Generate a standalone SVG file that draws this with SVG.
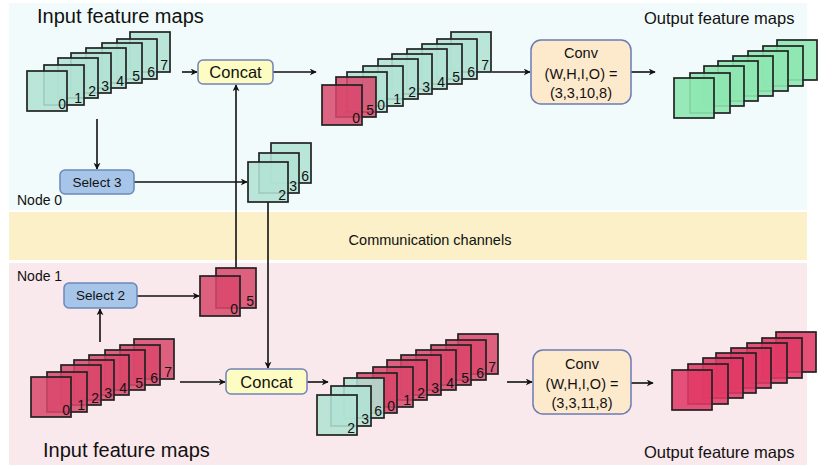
<svg xmlns="http://www.w3.org/2000/svg" width="838" height="469" viewBox="0 0 838 469">
<style>
.t{fill:#b2e2d4;fill-opacity:0.88;stroke:#222;stroke-width:1.7}
.r{fill:#d9486c;fill-opacity:0.85;stroke:#222;stroke-width:1.7}
.g{fill:#8ee7b1;fill-opacity:0.9;stroke:#222;stroke-width:1.7}
.p{fill:#e03a66;fill-opacity:0.88;stroke:#222;stroke-width:1.7}
.n{font-family:"Liberation Sans",Arial,sans-serif;font-size:14px;fill:#111;text-anchor:end}
.lbl{font-family:"Liberation Sans",Arial,sans-serif;fill:#111}
.c{stroke:#111;stroke-width:1.6;fill:none}
.concat{fill:#fdfcc2;stroke:#7283b8;stroke-width:1.5}
.sel{fill:#a7c5e8;stroke:#6a89bb;stroke-width:1.5}
.conv{fill:#fde9cc;stroke:#6a7bb5;stroke-width:1.5}
</style>
<defs>
<marker id="ah" viewBox="0 0 10 10" refX="9" refY="5" markerWidth="7" markerHeight="7" markerUnits="userSpaceOnUse" orient="auto">
<path d="M0,0 L10,5 L0,10 L3,5 z" fill="#111"/>
</marker>
</defs>
<rect x="0" y="0" width="838" height="469" fill="#ffffff"/>
<rect x="9" y="3" width="798" height="207" fill="#f2fbfb"/>
<rect x="9" y="212" width="798" height="48" fill="#fbf0c8"/>
<rect x="9" y="263" width="798" height="202" fill="#f9e8ec"/>

<text class="lbl" x="37" y="23" font-size="20">Input feature maps</text>
<text class="lbl" x="644" y="24" font-size="16.5">Output feature maps</text>
<text class="lbl" x="17" y="205" font-size="14">Node 0</text>
<text class="lbl" x="430" y="245" font-size="14.5" text-anchor="middle">Communication channels</text>
<text class="lbl" x="17" y="281" font-size="14">Node 1</text>
<text class="lbl" x="43" y="457" font-size="20">Input feature maps</text>
<text class="lbl" x="644" y="458" font-size="16.5">Output feature maps</text>

<g id="connectors">
<line class="c" x1="182" y1="72" x2="197" y2="72" marker-end="url(#ah)"/>
<line class="c" x1="273" y1="72" x2="316" y2="72" marker-end="url(#ah)"/>
<line class="c" x1="492" y1="72" x2="530" y2="72" marker-end="url(#ah)"/>
<line class="c" x1="631" y1="72" x2="655" y2="72" marker-end="url(#ah)"/>
<line class="c" x1="97" y1="119" x2="97" y2="169" marker-end="url(#ah)"/>
<line class="c" x1="134" y1="182" x2="247" y2="182" marker-end="url(#ah)"/>
<line class="c" x1="236" y1="268" x2="236" y2="85" marker-end="url(#ah)"/>
<line class="c" x1="268" y1="202" x2="268" y2="368" marker-end="url(#ah)"/>
<line class="c" x1="100" y1="342" x2="100" y2="309" marker-end="url(#ah)"/>
<line class="c" x1="137" y1="296" x2="199" y2="296" marker-end="url(#ah)"/>
<line class="c" x1="180" y1="382" x2="225" y2="382" marker-end="url(#ah)"/>
<line class="c" x1="307" y1="382" x2="328" y2="382" marker-end="url(#ah)"/>
<line class="c" x1="507" y1="382" x2="532" y2="382" marker-end="url(#ah)"/>
<line class="c" x1="631" y1="383" x2="653" y2="383" marker-end="url(#ah)"/>
</g>

<g id="input0">
<rect class="t" x="130" y="32" width="40" height="40"/><text class="n" x="168" y="70">7</text>
<rect class="t" x="117" y="39" width="40" height="40"/><text class="n" x="155" y="77">6</text>
<rect class="t" x="102" y="43" width="40" height="40"/><text class="n" x="140" y="81">5</text>
<rect class="t" x="86" y="48" width="40" height="40"/><text class="n" x="124" y="86">4</text>
<rect class="t" x="71" y="53" width="40" height="40"/><text class="n" x="109" y="91">3</text>
<rect class="t" x="58" y="58" width="40" height="40"/><text class="n" x="96" y="96">2</text>
<rect class="t" x="44" y="65" width="40" height="40"/><text class="n" x="82" y="103">1</text>
<rect class="t" x="27" y="71" width="40" height="40"/><text class="n" x="66" y="109">0</text>
</g>

<g id="concat0">
<rect class="concat" x="198" y="60" width="75" height="24" rx="5"/>
<text class="lbl" x="235.5" y="77.5" font-size="16.5" text-anchor="middle">Concat</text>
</g>

<g id="stack0">
<rect class="t" x="451" y="32" width="40" height="40"/><text class="n" x="489" y="70">7</text>
<rect class="t" x="437" y="39" width="40" height="40"/><text class="n" x="475" y="77">6</text>
<rect class="t" x="422" y="44" width="40" height="40"/><text class="n" x="460" y="82">5</text>
<rect class="t" x="407" y="49" width="40" height="40"/><text class="n" x="445" y="87">4</text>
<rect class="t" x="392" y="54" width="40" height="40"/><text class="n" x="430" y="92">3</text>
<rect class="t" x="378" y="59" width="40" height="40"/><text class="n" x="416" y="97">2</text>
<rect class="t" x="363" y="66" width="40" height="40"/><text class="n" x="401" y="104">1</text>
<rect class="t" x="347" y="72" width="40" height="40"/><text class="n" x="385" y="110">0</text>
<rect class="r" x="336" y="77" width="40" height="40"/><text class="n" x="374" y="115">5</text>
<rect class="r" x="322" y="85" width="40" height="40"/><text class="n" x="360" y="123">0</text>
</g>

<g id="conv0">
<rect class="conv" x="531" y="40" width="100" height="64" rx="10"/>
<text class="lbl" x="581" y="58" font-size="14.5" text-anchor="middle">Conv</text>
<text class="lbl" x="581" y="79" font-size="14.5" text-anchor="middle">(W,H,I,O) =</text>
<text class="lbl" x="581" y="98" font-size="14.5" text-anchor="middle">(3,3,10,8)</text>
</g>

<g id="output0">
<rect class="g" x="777" y="40" width="40" height="40"/>
<rect class="g" x="763" y="46" width="40" height="40"/>
<rect class="g" x="748" y="51" width="40" height="40"/>
<rect class="g" x="733" y="56" width="40" height="40"/>
<rect class="g" x="718" y="61" width="40" height="40"/>
<rect class="g" x="704" y="66" width="40" height="40"/>
<rect class="g" x="690" y="73" width="40" height="40"/>
<rect class="g" x="674" y="78" width="40" height="40"/>
</g>

<g id="select3">
<rect class="sel" x="60" y="170" width="74" height="24" rx="5"/>
<text class="lbl" x="97" y="187" font-size="13.5" text-anchor="middle">Select 3</text>
</g>

<g id="selected0">
<rect class="t" x="271" y="143" width="40" height="40"/><text class="n" x="309" y="181">6</text>
<rect class="t" x="259" y="153" width="40" height="40"/><text class="n" x="297" y="191">3</text>
<rect class="t" x="248" y="162" width="40" height="40"/><text class="n" x="286" y="200">2</text>
</g>

<g id="selected1">
<rect class="r" x="216" y="268" width="40" height="40"/><text class="n" x="254" y="306">5</text>
<rect class="r" x="200" y="276" width="40" height="40"/><text class="n" x="238" y="314">0</text>
</g>

<g id="select2">
<rect class="sel" x="64" y="283" width="73" height="25" rx="5"/>
<text class="lbl" x="100.5" y="300" font-size="13.5" text-anchor="middle">Select 2</text>
</g>

<g id="input1">
<rect class="r" x="134" y="339" width="40" height="40"/><text class="n" x="172" y="377">7</text>
<rect class="r" x="120" y="345" width="40" height="40"/><text class="n" x="158" y="383">6</text>
<rect class="r" x="105" y="350" width="40" height="40"/><text class="n" x="143" y="388">5</text>
<rect class="r" x="89" y="355" width="40" height="40"/><text class="n" x="127" y="393">4</text>
<rect class="r" x="74" y="360" width="40" height="40"/><text class="n" x="112" y="398">3</text>
<rect class="r" x="61" y="365" width="40" height="40"/><text class="n" x="99" y="403">2</text>
<rect class="r" x="47" y="372" width="40" height="40"/><text class="n" x="85" y="410">1</text>
<rect class="r" x="31" y="377" width="40" height="40"/><text class="n" x="70" y="415">0</text>
</g>

<g id="concat1">
<rect class="concat" x="226" y="369" width="81" height="25" rx="5"/>
<text class="lbl" x="266.5" y="387.5" font-size="16.5" text-anchor="middle">Concat</text>
</g>

<g id="stack1">
<rect class="r" x="458" y="334" width="40" height="40"/><text class="n" x="496" y="372">7</text>
<rect class="r" x="446" y="340" width="40" height="40"/><text class="n" x="484" y="378">6</text>
<rect class="r" x="431" y="345" width="40" height="40"/><text class="n" x="469" y="383">5</text>
<rect class="r" x="416" y="350" width="40" height="40"/><text class="n" x="454" y="388">4</text>
<rect class="r" x="401" y="355" width="40" height="40"/><text class="n" x="439" y="393">3</text>
<rect class="r" x="387" y="360" width="40" height="40"/><text class="n" x="425" y="398">2</text>
<rect class="r" x="373" y="367" width="40" height="40"/><text class="n" x="411" y="405">1</text>
<rect class="r" x="357" y="373" width="40" height="40"/><text class="n" x="395" y="411">0</text>
<rect class="t" x="344" y="378" width="40" height="40"/><text class="n" x="382" y="416">6</text>
<rect class="t" x="331" y="386" width="40" height="40"/><text class="n" x="369" y="424">3</text>
<rect class="t" x="317" y="395" width="40" height="40"/><text class="n" x="355" y="433">2</text>
</g>

<g id="conv1">
<rect class="conv" x="533" y="350" width="98" height="64" rx="10"/>
<text class="lbl" x="582" y="369" font-size="14.5" text-anchor="middle">Conv</text>
<text class="lbl" x="582" y="389" font-size="14.5" text-anchor="middle">(W,H,I,O) =</text>
<text class="lbl" x="582" y="408" font-size="14.5" text-anchor="middle">(3,3,11,8)</text>
</g>

<g id="output1">
<rect class="p" x="776" y="332" width="40" height="40"/>
<rect class="p" x="762" y="338" width="40" height="40"/>
<rect class="p" x="747" y="343" width="40" height="40"/>
<rect class="p" x="731" y="348" width="40" height="40"/>
<rect class="p" x="716" y="353" width="40" height="40"/>
<rect class="p" x="703" y="358" width="40" height="40"/>
<rect class="p" x="688" y="364" width="40" height="40"/>
<rect class="p" x="672" y="370" width="40" height="40"/>
</g>
</svg>
